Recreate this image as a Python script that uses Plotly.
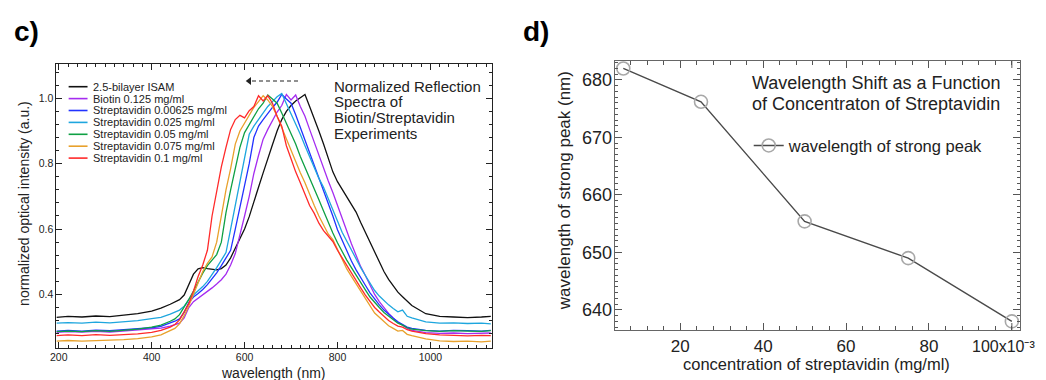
import plotly.graph_objects as go

# ---------------- data: panel c (normalized reflection spectra) ----------------
wavelength_nm = [195, 220, 250, 280, 310, 340, 370, 400, 420, 440,
                 450, 460, 470, 480, 490, 500, 510, 520, 530, 540,
                 550, 560, 570, 580, 590, 600, 610, 620, 630, 640,
                 650, 660, 670, 680, 690, 700, 710, 720, 730, 740,
                 750, 760, 770, 780, 790, 800, 810, 820, 830, 840,
                 850, 860, 870, 880, 890, 900, 910, 920, 930, 940,
                 950, 960, 990, 1020, 1050, 1080, 1110, 1130]

isam_2p5 = [0.330, 0.333, 0.331, 0.334, 0.332, 0.336, 0.341, 0.349, 0.358, 0.370,
            0.376, 0.384, 0.398, 0.428, 0.462, 0.478, 0.482, 0.479, 0.477, 0.475,
            0.479, 0.490, 0.512, 0.540, 0.568, 0.600, 0.638, 0.680, 0.728, 0.772,
            0.812, 0.858, 0.900, 0.935, 0.960, 0.978, 0.992, 1.002, 1.012, 0.975,
            0.940, 0.900, 0.860, 0.815, 0.775, 0.745, 0.722, 0.700, 0.678, 0.652,
            0.620, 0.590, 0.558, 0.525, 0.495, 0.470, 0.446, 0.425, 0.407, 0.393,
            0.378, 0.366, 0.341, 0.333, 0.331, 0.329, 0.331, 0.333]

biotin_0125 = [0.284, 0.286, 0.285, 0.287, 0.285, 0.288, 0.290, 0.294, 0.297, 0.303,
               0.307, 0.312, 0.328, 0.360, 0.378, 0.388, 0.398, 0.408, 0.420, 0.432,
               0.445, 0.462, 0.490, 0.525, 0.580, 0.640, 0.700, 0.770, 0.825, 0.875,
               0.905, 0.932, 0.958, 0.978, 1.012, 0.995, 1.010, 0.975, 0.945, 0.905,
               0.865, 0.825, 0.785, 0.748, 0.712, 0.672, 0.630, 0.590, 0.555, 0.520,
               0.485, 0.458, 0.430, 0.400, 0.378, 0.360, 0.342, 0.328, 0.315, 0.306,
               0.296, 0.290, 0.283, 0.281, 0.282, 0.280, 0.281, 0.282]

strep_000625 = [0.288, 0.290, 0.288, 0.291, 0.289, 0.292, 0.294, 0.298, 0.302, 0.312,
                0.318, 0.325, 0.345, 0.375, 0.392, 0.403, 0.415, 0.430, 0.447, 0.466,
                0.488, 0.510, 0.535, 0.600, 0.668, 0.730, 0.800, 0.880, 0.915, 0.935,
                0.955, 0.972, 0.988, 1.012, 0.998, 0.985, 0.950, 0.912, 0.872, 0.832,
                0.795, 0.755, 0.720, 0.682, 0.640, 0.598, 0.565, 0.532, 0.502, 0.475,
                0.450, 0.428, 0.405, 0.385, 0.368, 0.352, 0.338, 0.327, 0.316, 0.308,
                0.300, 0.296, 0.290, 0.288, 0.290, 0.289, 0.288, 0.290]

strep_0025 = [0.312, 0.314, 0.312, 0.315, 0.313, 0.316, 0.320, 0.326, 0.330, 0.340,
              0.346, 0.352, 0.364, 0.384, 0.398, 0.410, 0.424, 0.440, 0.460, 0.482,
              0.505, 0.528, 0.600, 0.670, 0.745, 0.820, 0.890, 0.915, 0.935, 0.955,
              0.975, 0.990, 1.005, 1.015, 0.985, 0.955, 0.925, 0.890, 0.855, 0.822,
              0.790, 0.755, 0.728, 0.695, 0.660, 0.625, 0.590, 0.562, 0.535, 0.508,
              0.482, 0.458, 0.435, 0.412, 0.395, 0.380, 0.368, 0.357, 0.347, 0.352,
              0.333, 0.328, 0.316, 0.312, 0.313, 0.311, 0.312, 0.310]

strep_005 = [0.286, 0.288, 0.286, 0.289, 0.287, 0.290, 0.294, 0.300, 0.306, 0.318,
             0.325, 0.338, 0.360, 0.385, 0.410, 0.440, 0.465, 0.488, 0.505, 0.522,
             0.560, 0.650, 0.720, 0.790, 0.850, 0.895, 0.920, 0.945, 0.968, 0.985,
             1.010, 0.998, 0.985, 0.955, 0.925, 0.895, 0.860, 0.822, 0.790, 0.755,
             0.722, 0.690, 0.655, 0.620, 0.588, 0.558, 0.530, 0.505, 0.482, 0.458,
             0.436, 0.414, 0.392, 0.375, 0.360, 0.345, 0.333, 0.322, 0.312, 0.306,
             0.298, 0.294, 0.289, 0.287, 0.289, 0.288, 0.287, 0.289]

strep_0075 = [0.257, 0.259, 0.257, 0.258, 0.260, 0.262, 0.265, 0.270, 0.276, 0.288,
              0.296, 0.310, 0.335, 0.365, 0.400, 0.435, 0.470, 0.495, 0.515, 0.560,
              0.640, 0.720, 0.785, 0.860, 0.900, 0.925, 0.950, 0.972, 0.990, 1.008,
              0.995, 0.975, 0.945, 0.910, 0.875, 0.842, 0.805, 0.772, 0.742, 0.705,
              0.672, 0.640, 0.610, 0.585, 0.568, 0.538, 0.505, 0.478, 0.455, 0.432,
              0.408, 0.385, 0.362, 0.343, 0.330, 0.316, 0.304, 0.296, 0.288, 0.290,
              0.278, 0.274, 0.264, 0.258, 0.256, 0.257, 0.255, 0.257]

strep_01 = [0.274, 0.276, 0.274, 0.277, 0.275, 0.277, 0.279, 0.284, 0.290, 0.300,
            0.308, 0.322, 0.345, 0.372, 0.410, 0.455, 0.490, 0.535, 0.640, 0.715,
            0.790, 0.850, 0.905, 0.935, 0.948, 0.940, 0.962, 0.975, 1.008, 0.992,
            1.008, 0.985, 0.945, 0.915, 0.855, 0.815, 0.775, 0.742, 0.705, 0.672,
            0.648, 0.618, 0.595, 0.580, 0.562, 0.535, 0.512, 0.488, 0.462, 0.440,
            0.420, 0.398, 0.378, 0.360, 0.346, 0.332, 0.320, 0.311, 0.303, 0.300,
            0.292, 0.288, 0.280, 0.276, 0.275, 0.273, 0.275, 0.274]

series_names = ["2.5-bilayer ISAM", "Biotin 0.125 mg/ml", "Streptavidin 0.00625 mg/ml",
                "Streptavidin 0.025 mg/ml", "Streptavidin 0.05 mg/ml",
                "Streptavidin 0.075 mg/ml", "Streptavidin 0.1 mg/ml"]
series_values = [isam_2p5, biotin_0125, strep_000625, strep_0025, strep_005, strep_0075, strep_01]
series_colors = ["#111111", "#a52cf0", "#2233ff", "#1ea6de", "#0fa044", "#e8a12c", "#ff2a2a"]

c_xticks = [200, 400, 600, 800, 1000]
c_yticks = [0.4, 0.6, 0.8, 1.0]
c_yticklabels = ["0.4", "0.6", "0.8", "1.0"]
shift_arrow_nm = [718, 610]
shift_arrow_level = 1.053
c_title_lines = ["Normalized Reflection", "Spectra of", "Biotin/Streptavidin", "Experiments"]

# ---------------- data: panel d (peak wavelength vs concentration) -------------
concentration_e3 = [6.25, 25, 50, 75, 100]
peak_wavelength = [682.0, 676.2, 655.4, 649.0, 638.0]
d_xticks = [20, 40, 60, 80]
d_xticklabels = ["20", "40", "60", "80"]
d_last_tick = 100
d_last_ticklabel = "100x10\u207b\u00b3"
d_yticks = [640, 650, 660, 670, 680]
d_title_lines = ["Wavelength Shift as a Function", "of Concentraton of Streptavidin"]

# ---------------- figure ----------------
W, H = 1046, 380
FONT = "Liberation Sans, Arial, sans-serif"


def fx(p):
    return p / W


def fy(p):
    return 1 - p / H


fig = go.Figure()

for name, col, vals in zip(series_names, series_colors, series_values):
    fig.add_trace(go.Scatter(x=wavelength_nm, y=vals, mode="lines", name=name,
                             line=dict(color=col, width=1.3), showlegend=False,
                             xaxis="x", yaxis="y"))

# arrowhead of the dashed "shift" arrow
fig.add_trace(go.Scatter(x=[shift_arrow_nm[1]], y=[shift_arrow_level], mode="markers",
                         marker=dict(symbol="triangle-left", size=7, color="#222222"),
                         showlegend=False, hoverinfo="skip", xaxis="x", yaxis="y"))

fig.add_trace(go.Scatter(x=concentration_e3, y=peak_wavelength, mode="lines+markers",
                         name="wavelength of strong peak",
                         line=dict(color="#4a4a4a", width=1.4),
                         marker=dict(symbol="circle-open", size=13, color="#a8a8a8",
                                     line=dict(width=1.6)),
                         xaxis="x2", yaxis="y2", showlegend=True))

axis_common = dict(showgrid=False, zeroline=False, showline=True, mirror="allticks",
                   ticks="inside", tickwidth=1)

fig.update_layout(
    width=W, height=H,
    margin=dict(l=0, r=0, t=0, b=0),
    paper_bgcolor="white", plot_bgcolor="white",
    font=dict(family=FONT, color="#222222"),
    xaxis=dict(domain=[fx(50.7), fx(489)], anchor="y", range=[195, 1133],
               tickmode="array", tickvals=c_xticks, ticklen=6,
               linecolor="#222222", tickcolor="#222222", linewidth=1,
               tickfont=dict(size=10.5, color="#222222"), ticklabelstandoff=0,
               minor=dict(dtick=20, tick0=0, ticklen=3, ticks="inside", tickcolor="#222222"),
               **axis_common),
    yaxis=dict(domain=[fy(347.7), fy(64)], anchor="x", range=[0.237, 1.105],
               tickmode="array", tickvals=c_yticks, ticktext=c_yticklabels, ticklen=6,
               linecolor="#222222", tickcolor="#222222", linewidth=1,
               tickfont=dict(size=10.5, color="#222222"),
               minor=dict(dtick=0.04, tick0=0, ticklen=3, ticks="inside", tickcolor="#222222"),
               **axis_common),
    xaxis2=dict(domain=[fx(612.3), fx(1020)], anchor="y2", range=[4.2, 102],
                tickmode="array", tickvals=d_xticks, ticktext=d_xticklabels, ticklen=7,
                linecolor="#666666", tickcolor="#555555", linewidth=1.2,
                tickfont=dict(size=17, color="#222222"),
                minor=dict(dtick=4, tick0=0, ticklen=4, ticks="inside", tickcolor="#555555"),
                **axis_common),
    yaxis2=dict(domain=[fy(330), fy(61)], anchor="x2", range=[636.5, 683.3],
                tickmode="array", tickvals=d_yticks, ticklen=7,
                linecolor="#666666", tickcolor="#555555", linewidth=1.2,
                tickfont=dict(size=18, color="#222222"), ticklabelstandoff=-2,
                minor=dict(dtick=1, tick0=0, ticklen=3, ticks="inside", tickcolor="#555555"),
                **axis_common),
    legend=dict(x=fx(747), y=fy(145.7), xanchor="left", yanchor="middle",
                bgcolor="rgba(0,0,0,0)", borderwidth=0,
                font=dict(size=16.5, color="#222222", family=FONT)),
)

annotations = []
shapes = []

# panel labels
annotations.append(dict(text="<b>c)</b>", x=fx(6), y=fy(31), xref="paper", yref="paper",
                        xanchor="left", yanchor="middle", showarrow=False,
                        font=dict(size=28, color="#000000", family=FONT)))
annotations.append(dict(text="<b>d)</b>", x=fx(518), y=fy(31), xref="paper", yref="paper",
                        xanchor="left", yanchor="middle", showarrow=False,
                        font=dict(size=28, color="#000000", family=FONT)))

# axis titles
annotations.append(dict(text="wavelength (nm)", x=fx(269), y=fy(372.5), xref="paper", yref="paper",
                        xanchor="center", yanchor="middle", showarrow=False,
                        font=dict(size=14, color="#222222")))
annotations.append(dict(text="normalized optical intensity (a.u.)", x=fx(18), y=fy(203),
                        xref="paper", yref="paper", textangle=-90,
                        xanchor="center", yanchor="middle", showarrow=False,
                        font=dict(size=14, color="#222222")))
annotations.append(dict(text="concentration of streptavidin (mg/ml)", x=fx(815.5), y=fy(364),
                        xref="paper", yref="paper", xanchor="center", yanchor="middle",
                        showarrow=False, font=dict(size=16.5, color="#222222")))
annotations.append(dict(text="wavelength of strong peak (nm)", x=fx(561.7), y=fy(190.7),
                        xref="paper", yref="paper", textangle=-90,
                        xanchor="center", yanchor="middle", showarrow=False,
                        font=dict(size=17, color="#222222")))

# last x tick label of panel d (kept inside the page)
annotations.append(dict(text=d_last_ticklabel, x=fx(1037), y=fy(346.5), xref="paper", yref="paper",
                        xanchor="right", yanchor="middle", showarrow=False,
                        font=dict(size=16, color="#222222")))
shapes.append(dict(type="line", xref="x2", yref="paper", x0=d_last_tick, x1=d_last_tick,
                   y0=fy(330), y1=fy(323), line=dict(color="#555555", width=1)))
shapes.append(dict(type="line", xref="x2", yref="paper", x0=d_last_tick, x1=d_last_tick,
                   y0=fy(61), y1=fy(68), line=dict(color="#555555", width=1)))

# panel c inset title
for i, line in enumerate(c_title_lines):
    annotations.append(dict(text=line, x=fx(328), y=fy(86 + i * 15.8), xref="paper", yref="paper",
                            xanchor="left", yanchor="middle", showarrow=False,
                            font=dict(size=15, color="#222222")))

# panel d inset title
for i, line in enumerate(d_title_lines):
    annotations.append(dict(text=line, x=fx(748), y=fy(83 + i * 20.6), xref="paper", yref="paper",
                            xanchor="left", yanchor="middle", showarrow=False,
                            font=dict(size=18, color="#222222")))

# panel c legend (drawn compactly)
for i, (name, col) in enumerate(zip(series_names, series_colors)):
    yy = fy(86.7 + i * 11.9)
    shapes.append(dict(type="line", xref="paper", yref="paper", x0=fx(63), x1=fx(82),
                       y0=yy, y1=yy, line=dict(color=col, width=1.6)))
    annotations.append(dict(text=name, x=fx(85), y=yy, xref="paper", yref="paper",
                            xanchor="left", yanchor="middle", showarrow=False,
                            font=dict(size=11, color="#222222")))

# dashed shaft of the shift arrow
shapes.append(dict(type="line", xref="x", yref="y", x0=shift_arrow_nm[1] + 6, x1=shift_arrow_nm[0],
                   y0=shift_arrow_level, y1=shift_arrow_level,
                   line=dict(color="#222222", width=1.1, dash="4px,3px")))

fig.update_layout(annotations=annotations, shapes=shapes)

fig.write_html("out.html")
